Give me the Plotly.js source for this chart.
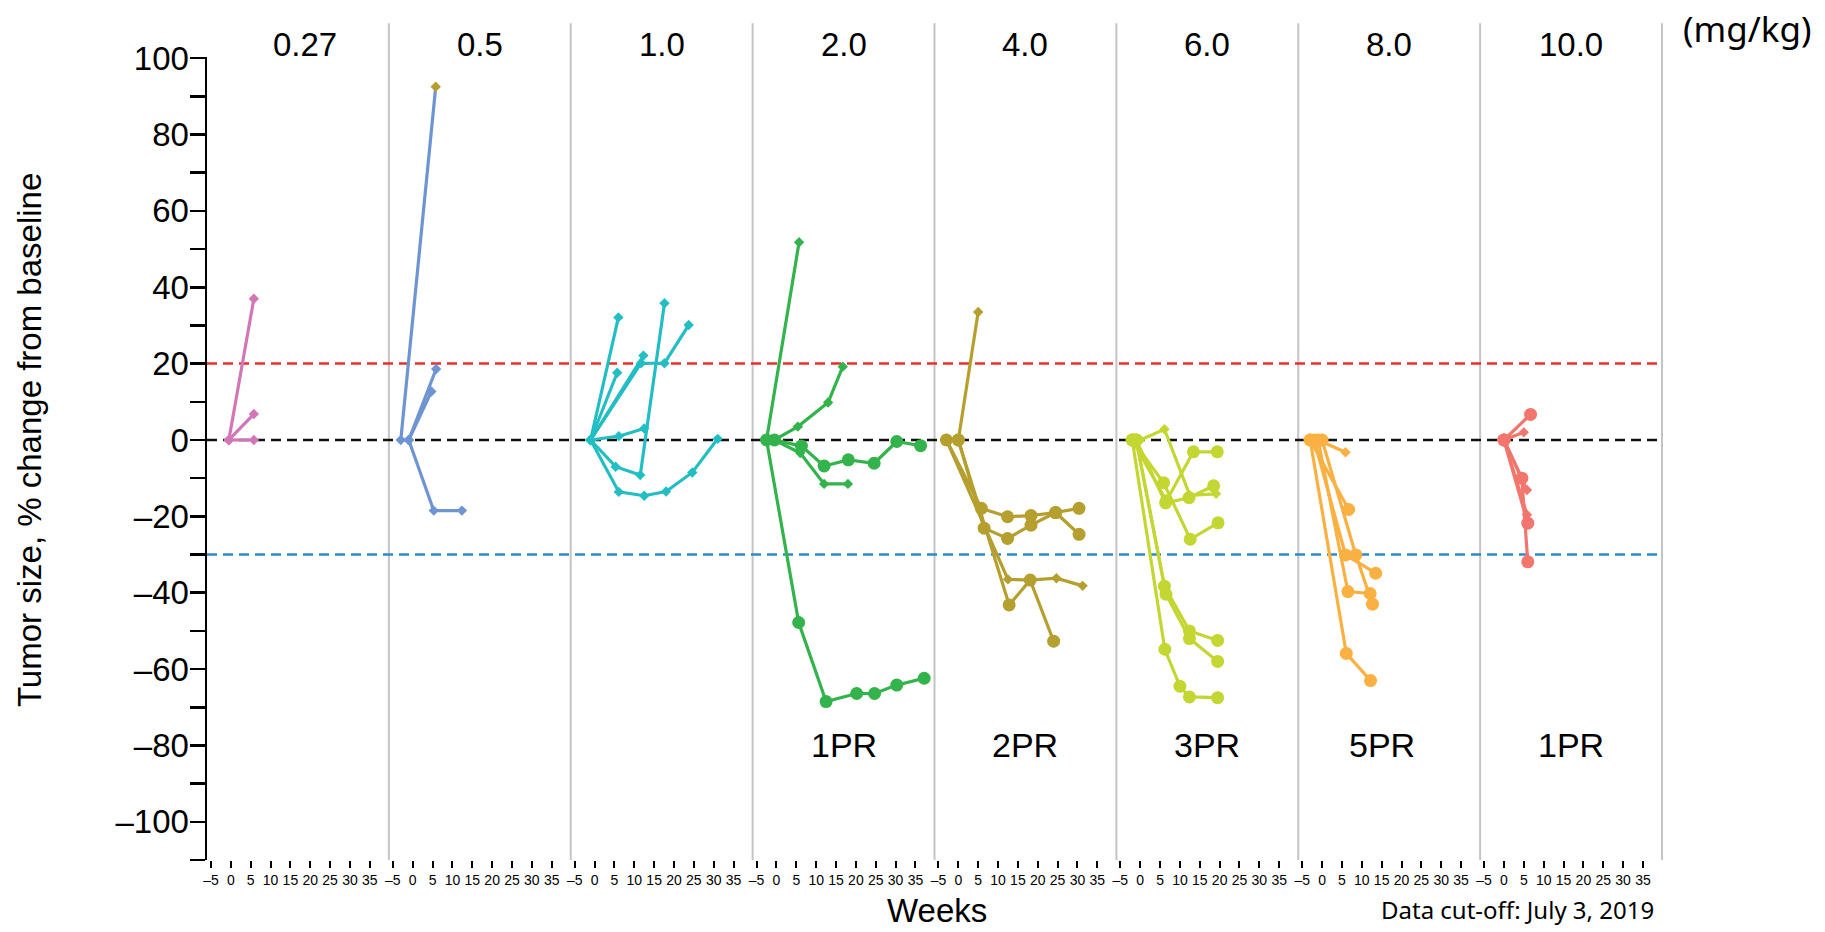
<!DOCTYPE html>
<html>
<head>
<meta charset="utf-8">
<script src="https://cdn.plot.ly/plotly-3.0.1.min.js"></script>
<style>
  html, body { margin: 0; padding: 0; background: #ffffff; }
  #chart { width: 1825px; height: 932px; }
</style>
</head>
<body>
<div id="chart"></div>
<script>
// ---------------- DATA ----------------
const doseLabels = ["0.27", "0.5", "1.0", "2.0", "4.0", "6.0", "8.0", "10.0"];
const prLabels = ["", "", "", "1PR", "2PR", "3PR", "5PR", "1PR"];
const weekTicks = [-5, 0, 5, 10, 15, 20, 25, 30, 35];
const weekTickText = ["\u20135", "0", "5", "10", "15", "20", "25", "30", "35"];
const pctTicks = [-100, -80, -60, -40, -20, 0, 20, 40, 60, 80, 100];
const pctTickText = ["\u2013100", "\u201380", "\u201360", "\u201340", "\u201320", "0", "20", "40", "60", "80", "100"];
const pctMinorTicks = [-110, -90, -70, -50, -30, -10, 10, 30, 50, 70, 90];

// weeks / % change per patient, one list per dose level
const weeks_0_27  = [[-0.5, 5.8], [-0.5, 5.8], [-0.5, 5.8]];
const change_0_27 = [[0, 37], [0, 6.8], [0, 0]];
const large_0_27  = [false, false, false];

const weeks_0_5  = [[-3, 5.8], [-1, 4.7], [-1, 5.9], [-1, 5.3, 12.4]];
const change_0_5 = [[0, 92.5], [0, 12.7], [0, 18.6], [0, -18.5, -18.5]];
const large_0_5  = [false, false, false, false];

const weeks_1_0  = [[-1, 6], [-1, 5.7], [-1, 11.7, 17.6, 23.7], [-1, 12.3], [-1, 6.1, 12.5], [-1, 5.3, 11.5, 17.6], [-1, 6.1, 12.5, 18, 24.6, 31]];
const change_1_0 = [[0, 32.1], [0, 17.6], [0, 20.1, 20.1, 30.1], [0, 22.1], [0, 1.0, 3.0], [0, -7.0, -9.2, 35.8], [0, -13.6, -14.6, -13.5, -8.5, 0.3]];
const large_1_0  = [false, false, false, false, false, false, false];

const weeks_2_0  = [[-2.5, 5.7], [-2.5, 5.6, 12.5, 20.2, 24.7, 30.3, 37.2], [-0.5, 5.4, 13, 16.7], [-0.5, 6.3, 12, 18.1, 24.6, 30.3, 36.3], [-0.5, 6, 12, 18]];
const change_2_0 = [[0, 51.8], [0, -47.8, -68.5, -66.4, -66.4, -64.2, -62.4], [0, 3.5, 9.8, 19.2], [0, -1.6, -6.8, -5.2, -6.1, -0.4, -1.5], [0, -3.4, -11.5, -11.5]];
const large_2_0  = [false, true, false, true, false];

const weeks_4_0  = [[0, 5], [-3, 5.8, 12.4, 18.3, 24.5, 30.4], [0, 6.5, 12.4, 18.3, 24.5, 30.4], [-3, 12.5, 18.1, 24.7, 31.3], [0, 12.8, 18.1, 24]];
const change_4_0 = [[0, 33.5], [0, -17.9, -20.1, -19.8, -19.0, -17.9], [0, -23.1, -25.8, -22.3, -19.0, -24.7], [0, -36.5, -36.7, -36.2, -38.2], [0, -43.2, -36.7, -52.7]];
const large_4_0  = [false, true, true, false, true];

const weeks_6_0  = [[0, 6.1, 12.5, 19.1], [-2, 6.6, 13.4, 19.4], [-2, 5.9, 12.6, 19.6], [-1, 6.4, 12.3, 18.5], [-1, 6.1, 12.4, 19.5], [-1, 6.5, 12.4, 19.5], [-2, 6.2, 10, 12.4, 19.5]];
const change_6_0 = [[0, 2.8, -14.5, -14.1], [0, -15.9, -3.1, -3.1], [0, -11.2, -26, -21.7], [0, -16.5, -15.1, -12.0], [0, -38.3, -50, -52.5], [0, -40.4, -52, -58], [0, -54.8, -64.5, -67.3, -67.5]];
const large_6_0  = [false, true, true, true, true, true, true];

const weeks_8_0  = [[-1, 5.9], [-3, 6.7], [-2, 5.9, 13.5], [0, 8.5, 12.7], [-1, 6.5, 12.1], [-3, 6.1, 12.2]];
const change_8_0 = [[0, -3.2], [0, -18.2], [0, -30.1, -34.9], [0, -30.1, -43], [0, -39.7, -40.2], [0, -55.9, -63.0]];
const large_8_0  = [false, true, true, true, true, true];

const weeks_10_0  = [[0, 6.7], [0, 5], [0, 4.5, 6], [0, 5.8], [0, 5.8], [0, 6]];
const change_10_0 = [[0, 6.7], [0, 2], [0, -10, -31.9], [0, -13.1], [0, -19.6], [0, -21.8]];
const large_10_0  = [true, false, true, false, false, true];

const refLevels = [20, 0, -30];

// ---------------- STYLE ----------------
const doseColors = ["#d277b6", "#6f94d2", "#22bec4", "#33b34b", "#b59f2e", "#c4d631", "#fbb042", "#f2766d"];
const refColors = ["#ee2b2b", "#111111", "#2d89cc"];
const outlierMarkerColor = "#b59f2e";

const groups = [
  [weeks_0_27, change_0_27, large_0_27],
  [weeks_0_5, change_0_5, large_0_5],
  [weeks_1_0, change_1_0, large_1_0],
  [weeks_2_0, change_2_0, large_2_0],
  [weeks_4_0, change_4_0, large_4_0],
  [weeks_6_0, change_6_0, large_6_0],
  [weeks_8_0, change_8_0, large_8_0],
  [weeks_10_0, change_10_0, large_10_0]
];

const FONT = 'Arial, "Liberation Sans", Helvetica, sans-serif';
const NARROW = '"Liberation Sans Narrow", "Arial Narrow", Arial, "Liberation Sans", sans-serif';
const NOTO = '"Noto Sans", "Open Sans", sans-serif';

const traces = [];
groups.forEach(([wk, ch, lg], k) => {
  const xa = k === 0 ? 'x' : 'x' + (k + 1);
  wk.forEach((w, i) => {
    const big = lg[i];
    let mcolor = doseColors[k];
    // the 0.5 mg/kg patient reaching +92% has its last marker drawn in olive
    if (k === 1 && i === 0) mcolor = w.map((_, j) => j === w.length - 1 ? outlierMarkerColor : doseColors[k]);
    traces.push({
      type: 'scatter', mode: 'lines+markers',
      x: w, y: ch[i], xaxis: xa, yaxis: 'y',
      line: { color: doseColors[k], width: 3.2 },
      marker: { symbol: big ? 'circle' : 'diamond', size: big ? 13 : 8, color: mcolor, line: { width: 0 } },
      hoverinfo: 'skip', showlegend: false
    });
  });
});

const layout = {
  width: 1825, height: 932,
  margin: { l: 207, r: 163, t: 57, b: 72 },
  paper_bgcolor: '#ffffff', plot_bgcolor: 'rgba(0,0,0,0)',
  showlegend: false,
  font: { family: FONT, color: '#000000' },
  yaxis: {
    type: 'linear',
    anchor: 'x', domain: [0, 1], range: [-110, 100.3],
    showline: true, linecolor: '#000000', linewidth: 2.5,
    showgrid: false, zeroline: false,
    ticks: 'outside', ticklen: 15, tickwidth: 2.5, tickcolor: '#000000',
    tickmode: 'array', tickvals: pctTicks, ticktext: pctTickText,
    ticklabelstandoff: -6,
    tickfont: { family: FONT, size: 33, color: '#000000' },
    minor: { tickmode: 'array', tickvals: pctMinorTicks, ticks: 'outside', ticklen: 15, tickwidth: 2.5, tickcolor: '#000000', showgrid: false }
  },
  shapes: [],
  annotations: []
};

for (let k = 0; k < 8; k++) {
  const key = k === 0 ? 'xaxis' : 'xaxis' + (k + 1);
  layout[key] = {
    type: 'linear',
    domain: [k / 8, (k + 1) / 8], anchor: 'y', range: [-6, 39.8],
    showline: false, showgrid: false, zeroline: false,
    ticks: 'outside', ticklen: 7, tickwidth: 2, tickcolor: '#000000',
    tickmode: 'array', tickvals: weekTicks, ticktext: weekTickText,
    tickfont: { family: NARROW, size: 14, color: '#000000' },
    tickangle: 0
  };
  const dref = (k === 0 ? 'x' : 'x' + (k + 1)) + ' domain';
  layout.annotations.push({
    xref: dref, yref: 'paper', x: k === 0 ? 0.54 : 0.5, y: 1.016,
    text: doseLabels[k], showarrow: false, xanchor: 'center', yanchor: 'middle',
    font: { family: FONT, size: 33, color: '#000000' }
  });
  if (prLabels[k]) {
    layout.annotations.push({
      xref: dref, yref: 'y', x: k === 6 ? 0.46 : 0.5, y: -80,
      text: prLabels[k], showarrow: false, xanchor: 'center', yanchor: 'middle',
      font: { family: FONT, size: 34, color: '#000000' }
    });
  }
  // panel separators
  layout.shapes.push({
    type: 'line', xref: 'paper', yref: 'paper', x0: (k + 1) / 8, x1: (k + 1) / 8, y0: 0, y1: 1.042,
    line: { color: '#c4c4c4', width: 2 }, layer: 'below'
  });
}

refLevels.forEach((v, i) => {
  layout.shapes.push({
    type: 'line', xref: 'paper', yref: 'y', x0: 0, x1: 1, y0: v, y1: v,
    line: { color: refColors[i], width: 2.5, dash: '10px,6px' }, layer: 'below'
  });
});

layout.annotations.push(
  { xref: 'paper', yref: 'paper', x: -0.1223, y: 0.523, text: 'Tumor size, % change from baseline', textangle: -90,
    showarrow: false, xanchor: 'center', yanchor: 'middle', font: { family: FONT, size: 33, color: '#000000' } },
  { xref: 'paper', yref: 'paper', x: 0.5017, y: -0.0635, text: 'Weeks',
    showarrow: false, xanchor: 'center', yanchor: 'middle', font: { family: FONT, size: 33, color: '#000000' } },
  { xref: 'paper', yref: 'paper', x: 0.995, y: -0.062, text: 'Data cut-off: July 3, 2019',
    showarrow: false, xanchor: 'right', yanchor: 'middle', borderpad: 0, font: { family: NOTO, size: 24, color: '#000000' } },
  { xref: 'paper', yref: 'paper', x: 1.059, y: 1.035, text: '(mg/kg)',
    showarrow: false, xanchor: 'center', yanchor: 'middle', font: { family: NOTO, size: 35, color: '#000000' } }
);

Plotly.newPlot('chart', traces, layout, { staticPlot: true, displayModeBar: false });
</script>
</body>
</html>
